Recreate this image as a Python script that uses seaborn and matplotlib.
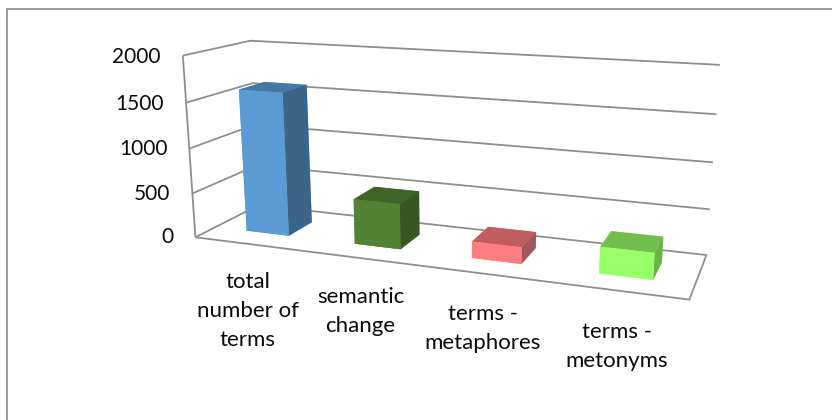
import numpy as np
import matplotlib
matplotlib.use("Agg")
import matplotlib.pyplot as plt
from matplotlib.lines import Line2D
from mpl_toolkits.mplot3d import proj3d
from mpl_toolkits.mplot3d.art3d import Line3DCollection
import seaborn as sns

categories = ["total\nnumber of\nterms", "semantic\nchange", "terms -\nmetaphores", "terms -\nmetonyms"]
values = [1600, 500, 180, 280]
value_ticks = [0, 500, 1000, 1500, 2000]
front_colors = ["#5B9BD5", "#548235", "#FF7C80", "#99FF66"]
top_colors = ["#4577A5", "#3F6428", "#BF5D60", "#73BF4D"]
side_colors = ["#3A6488", "#375623", "#A0595B", "#6CB347"]

LINE = "#8E8E8E"
TEXT = "#0A0A0A"
BAR_WIDTH = 0.4
DEPTH_START, DEPTH_END = 0.3, 0.7

sns.set_theme(style="white")
plt.rcParams["font.family"] = ["Lato", "DejaVu Sans"]

fig = plt.figure(figsize=(8.32, 4.2), dpi=100)
ax = fig.add_axes([0, 0, 1, 1], projection="3d")
ax.set_xticks([])
ax.set_yticks([])
ax.set_zticks([])
ax.set_axis_off()
ax.computed_zorder = False
ax.patch.set_alpha(0)
ax.apply_aspect = lambda position=None: None
ax.viewLim.intervalx = (0, 832)
ax.viewLim.intervaly = (420, 0)

# Camera: a single perspective matrix solved from reference points of the
# chart box, given as (slot, depth, value) -> (canvas x, canvas y).
camera_points = [
    (0, 0, 0, 195, 237), (0, 0, 500, 192.5, 193), (0, 0, 1000, 189.5, 148),
    (0, 0, 1500, 186.5, 103), (0, 0, 2000, 183, 56),
    (0, 1, 1500, 252, 82), (0, 1, 2000, 250, 41), (0, 1, 0, 260, 205),
    (4, 1, 0, 706, 254), (4, 1, 500, 710, 210), (4, 1, 1000, 713, 163),
    (4, 1, 1500, 716, 114), (4, 1, 2000, 720, 65), (4, 0, 0, 690, 298),
    (0.3, 0.3, 0, 247, 231), (0.7, 0.3, 0, 288, 236),
    (1.3, 0.3, 0, 354, 245), (1.7, 0.3, 0, 400, 250),
    (2.3, 0.3, 0, 472, 258), (2.7, 0.3, 0, 522, 264),
    (3.3, 0.3, 0, 599, 274), (3.7, 0.3, 0, 653, 280),
]


def solve_camera(points):
    rows, rhs = [], []
    for x, y, z, u, v in points:
        z = z / 2000
        rows.append([x, y, z, 1, 0, 0, 0, 0, -u * x, -u * y, -u * z])
        rhs.append(u)
        rows.append([0, 0, 0, 0, x, y, z, 1, -v * x, -v * y, -v * z])
        rhs.append(v)
    p = np.linalg.lstsq(np.array(rows), np.array(rhs), rcond=None)[0]
    scale = np.array([1, 1, 1 / 2000, 1])
    row_u = p[:4] * scale
    row_v = p[4:8] * scale
    row_w = np.append(p[8:11], 1) * scale
    # third row only orders the faces: far and left-hand ones paint first
    row_d = np.array([-0.05, 1, -0.02 / 2000, 0]) * row_w[3]
    row_d = row_d + 2 * row_w
    return np.vstack([row_u, row_v, row_d, row_w])


camera = solve_camera(camera_points)
ax.get_proj = lambda: camera


def place_text(slot, depth, value, label, **style):
    u, v, _ = proj3d.proj_transform(slot, depth, value, camera)
    ax.text2D(u, v, label, transform=ax.transData, color=TEXT, zorder=3, **style)


# Value gridlines run along the left side wall and the back wall,
# then come the front-left upright and the floor outline
top = value_ticks[-1]
segments = [[(0, 0, t), (0, 1, t), (4, 1, t)] for t in value_ticks]
segments.append([(0, 0, 0), (0, 0, top)])
segments.append([(0, 0, 0), (4, 0, 0), (4, 1, 0)])
ax.add_collection3d(Line3DCollection(segments, colors=LINE, linewidths=1.3, zorder=1), autolim=False)

# Each bar gets six faces: bottom, top, front, back, left, right
face_colors = []
for front, roof, side in zip(front_colors, top_colors, side_colors):
    face_colors += [front, roof, front, front, front, side]

slots = np.arange(len(values)) + 0.5 - BAR_WIDTH / 2
ax.bar3d(slots, np.full(len(values), DEPTH_START), np.zeros(len(values)),
         BAR_WIDTH, DEPTH_END - DEPTH_START, values,
         color=face_colors, shade=False, zorder=2, edgecolor="none", linewidth=0)

for tick in value_ticks:
    place_text(-0.21, 0, tick - 30, str(tick), ha="right", va="center", fontsize=15)

for i, label in enumerate(categories):
    place_text(i + 0.48 + 0.007 * i, 0, -320, label, ha="center", va="top",
               fontsize=16, linespacing=1.57)

# Chart area border: only its top and left edges fall on the canvas
w, h = fig.get_size_inches() * fig.dpi
fig.add_artist(Line2D([6.5 / w, 6.5 / w], [0, 1 - 8.5 / h], color=LINE, lw=1.2))
fig.add_artist(Line2D([6.5 / w, 1], [1 - 8.5 / h, 1 - 8.5 / h], color=LINE, lw=1.2))

fig.savefig("out.png", dpi=100, facecolor="white")
